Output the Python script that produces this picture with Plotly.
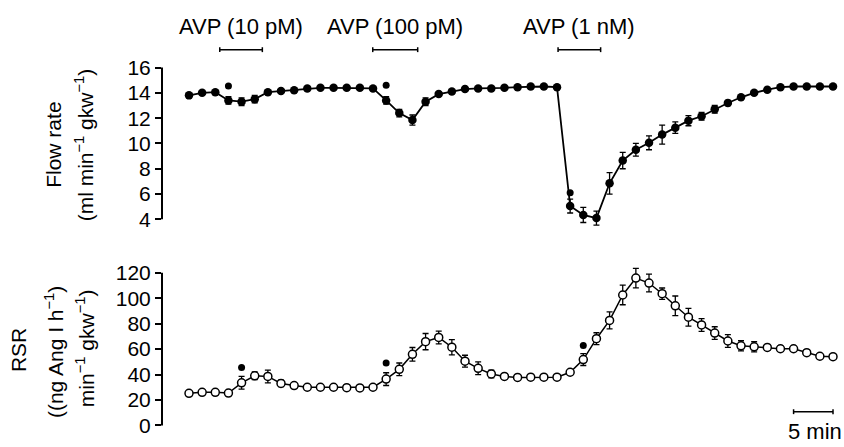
import plotly.graph_objects as go

# ---------------- data ----------------
step_min = 5 / 3  # sampling interval (min)
n_pts = 50
time_min = [i * step_min for i in range(n_pts)]

flow = [13.8, 14.0, 14.05, 13.4, 13.3, 13.5, 14.05, 14.15, 14.2, 14.35,
        14.4, 14.4, 14.4, 14.4, 14.35, 13.4, 12.4, 11.85, 13.3, 13.9,
        14.1, 14.3, 14.35, 14.35, 14.4, 14.45, 14.5, 14.5, 14.45, 5.05,
        4.35, 4.1, 6.85, 8.65, 9.5, 10.05, 10.7, 11.25, 11.8, 12.15,
        12.7, 13.2, 13.65, 14.0, 14.25, 14.45, 14.5, 14.5, 14.5, 14.5]
flow_err = [0, 0, 0, 0.3, 0.3, 0.3, 0, 0, 0, 0,
            0, 0, 0, 0, 0, 0.3, 0.3, 0.4, 0.3, 0,
            0, 0, 0, 0, 0, 0, 0, 0, 0, 0.55,
            0.6, 0.55, 0.85, 0.65, 0.5, 0.55, 0.75, 0.45, 0.4, 0.3,
            0.3, 0.2, 0, 0, 0, 0, 0, 0, 0, 0]

rsr = [25.2, 26.0, 26.0, 25.4, 33.5, 39.0, 38.5, 33.0, 31.3, 30.0,
       30.0, 30.0, 29.7, 29.5, 30.0, 36.4, 44.1, 55.9, 65.9, 69.2,
       61.5, 50.5, 44.9, 40.5, 38.5, 37.7, 37.9, 37.9, 37.9, 41.8,
       51.8, 68.2, 82.6, 102.6, 115.9, 112.0, 103.6, 94.1, 85.1, 79.0,
       72.6, 66.4, 62.6, 61.8, 61.3, 60.3, 60.3, 57.2, 54.4, 54.1]
rsr_err = [0, 0, 0, 0, 5, 3, 5, 2.5, 0, 0,
           0, 0, 0, 0, 0, 5, 5, 5.4, 6.4, 5,
           6, 4.7, 5, 3, 1.5, 0, 0, 0, 0, 0,
           4.7, 4.7, 6.7, 7.7, 7.7, 7, 4.5, 7.7, 7, 5,
           5, 5, 4, 4, 2, 2, 0, 0, 0, 0]

# significance markers (index of sample, y value of dot)
flow_sig_idx = [3, 15, 29]
flow_sig_y = [14.55, 14.6, 6.1]
rsr_sig_idx = [4, 15, 30]
rsr_sig_y = [45.6, 49.0, 62.8]

# AVP infusion periods (min)
avp_labels = ["AVP (10 pM)", "AVP (100 pM)", "AVP (1 nM)"]
avp_start = [3.9, 23.3, 46.8]
avp_end = [9.3, 29.0, 52.2]

flow_ticks = [4, 6, 8, 10, 12, 14, 16]
rsr_ticks = [0, 20, 40, 60, 80, 100, 120]

# ---------------- figure ----------------
W, H = 844, 447
FONT = "Liberation Sans, Arial, sans-serif"
x_dom = [162 / W, 1.0]
x_rng = [-3.424, 83.06]

fig = go.Figure()

fig.add_trace(go.Scatter(
    x=time_min, y=flow, mode="lines+markers",
    line=dict(color="black", width=1.8),
    marker=dict(symbol="circle", size=8.5, color="black"),
    error_y=dict(type="data", array=flow_err, visible=True,
                 color="black", thickness=1.3, width=3),
    xaxis="x", yaxis="y", showlegend=False))
fig.add_trace(go.Scatter(
    x=[time_min[i] for i in flow_sig_idx], y=flow_sig_y, mode="markers",
    marker=dict(symbol="circle", size=7, color="black"),
    xaxis="x", yaxis="y", showlegend=False))

fig.add_trace(go.Scatter(
    x=time_min, y=rsr, mode="lines+markers",
    line=dict(color="black", width=1.5),
    marker=dict(symbol="circle", size=8, color="white",
                line=dict(color="black", width=1.5)),
    error_y=dict(type="data", array=rsr_err, visible=True,
                 color="black", thickness=1.3, width=3),
    xaxis="x2", yaxis="y2", showlegend=False))
fig.add_trace(go.Scatter(
    x=[time_min[i] for i in rsr_sig_idx], y=rsr_sig_y, mode="markers",
    marker=dict(symbol="circle", size=7, color="black"),
    xaxis="x2", yaxis="y2", showlegend=False))

ax_common = dict(showgrid=False, zeroline=False, showline=False,
                 ticks="outside", ticklen=6, tickwidth=2, tickcolor="black",
                 tickfont=dict(family=FONT, size=21, color="black"))
xa_common = dict(domain=x_dom, range=x_rng, visible=False)

fig.update_layout(
    width=W, height=H,
    margin=dict(l=0, r=0, t=0, b=0),
    paper_bgcolor="white", plot_bgcolor="white",
    xaxis=dict(**xa_common, anchor="y"),
    xaxis2=dict(**xa_common, anchor="y2"),
    yaxis=dict(**ax_common, domain=[1 - 232.2 / H, 1 - 57.5 / H],
               range=[3.0, 16.5], tickvals=flow_ticks, anchor="x"),
    yaxis2=dict(**ax_common, domain=[1 - 436.5 / H, 1 - 267.5 / H],
                range=[-5, 125], tickvals=rsr_ticks, anchor="x2"),
)

shapes = []
# axis spines
shapes.append(dict(type="line", xref="paper", yref="y", x0=x_dom[0], x1=x_dom[0],
                   y0=flow_ticks[0], y1=flow_ticks[-1], line=dict(color="black", width=2)))
shapes.append(dict(type="line", xref="paper", yref="y2", x0=x_dom[0], x1=x_dom[0],
                   y0=rsr_ticks[0], y1=rsr_ticks[-1], line=dict(color="black", width=2)))

# AVP bars
bar_y = 1 - 45.7 / H
tick_h = 2.5 / H
annotations = []
for lab, s, e in zip(avp_labels, avp_start, avp_end):
    shapes.append(dict(type="line", xref="x", yref="paper", x0=s, x1=e,
                       y0=bar_y, y1=bar_y, line=dict(color="black", width=1.5)))
    for xx in (s, e):
        shapes.append(dict(type="line", xref="x", yref="paper", x0=xx, x1=xx,
                           y0=bar_y - tick_h, y1=bar_y + tick_h,
                           line=dict(color="black", width=1.5)))
    annotations.append(dict(xref="x", yref="paper", x=(s + e) / 2, y=1 - 22 / H,
                            text=lab, showarrow=False, xanchor="center", yanchor="middle",
                            font=dict(family=FONT, size=22, color="black")))

# 5 min scale bar
sb_end = time_min[-1]
sb_start = sb_end - 5
sb_y = 1 - 416 / H
shapes.append(dict(type="line", xref="x2", yref="paper", x0=sb_start, x1=sb_end,
                   y0=sb_y, y1=sb_y, line=dict(color="black", width=1.5)))
for xx in (sb_start, sb_end):
    shapes.append(dict(type="line", xref="x2", yref="paper", x0=xx, x1=xx,
                       y0=sb_y - tick_h, y1=sb_y + tick_h,
                       line=dict(color="black", width=1.5)))
annotations.append(dict(xref="x2", yref="paper", x=(sb_start + sb_end) / 2 + 0.2,
                        y=1 - 436 / H, text="5 min", showarrow=False,
                        xanchor="center", yanchor="middle",
                        font=dict(family=FONT, size=22, color="black")))

# y titles (rotated)
titles = [
    ("Flow rate", 54, 143),
    ("(ml min<sup>−1</sup> gkw<sup>−1</sup>)", 84, 143.5),
    ("RSR", 18, 353),
    ("((ng Ang I h<sup>−1</sup>)", 54, 355),
    ("min<sup>−1</sup> gkw<sup>−1</sup>)", 85, 351),
]
for txt, px, py in titles:
    annotations.append(dict(xref="paper", yref="paper", x=px / W, y=1 - py / H,
                            text=txt, showarrow=False, textangle=-90,
                            xanchor="center", yanchor="middle",
                            font=dict(family=FONT, size=21, color="black")))

fig.update_layout(shapes=shapes, annotations=annotations)
fig.write_html("out.html")
